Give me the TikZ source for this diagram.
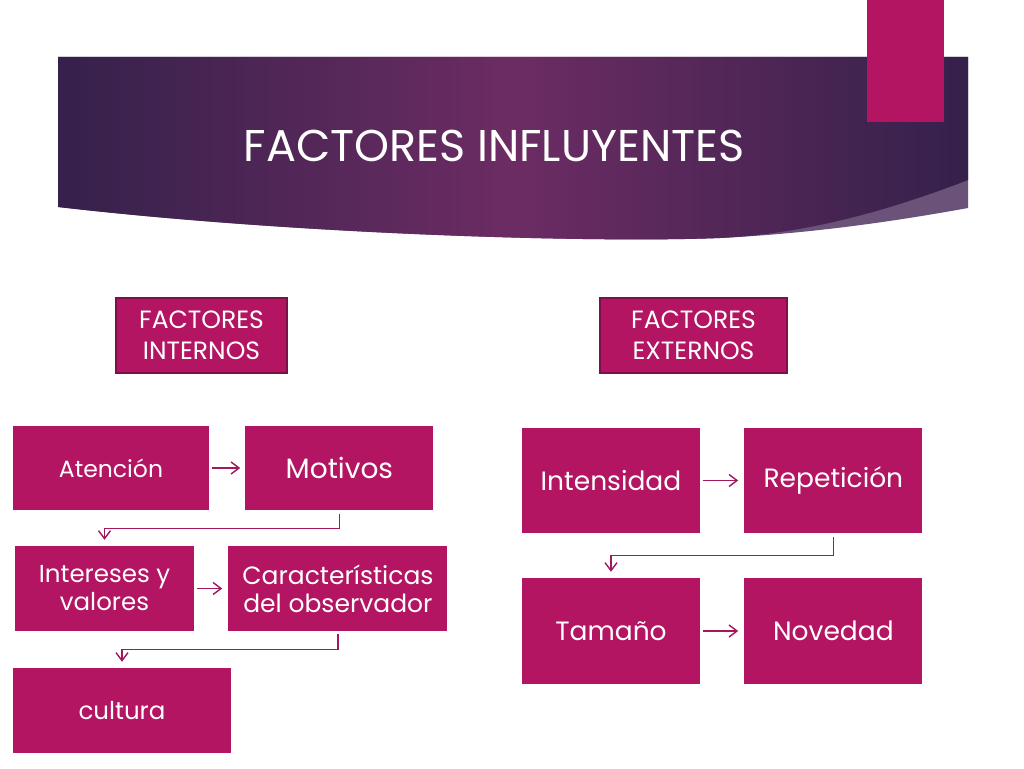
\documentclass[tikz,border=0pt]{standalone}
\usepackage{fontspec}
\setmainfont{Poppins}
\usetikzlibrary{positioning}
\usetikzlibrary{arrows.meta}
\definecolor{magenta}{HTML}{B31562}
\definecolor{flecha}{HTML}{A3175C}
\definecolor{borde}{HTML}{7D1044}
\definecolor{morado}{HTML}{35214B}
\definecolor{moradoclaro}{HTML}{6C2C63}
\definecolor{estela}{HTML}{6A5278}

\begin{document}
\begin{tikzpicture}[x=1pt, y=1pt,
            caja/.style={fill=magenta, text=white, align=center, inner sep=2pt},
            cabecera/.style={caja, draw=borde, line width=1.2pt, font=\fontsize{25}{31}\selectfont},
            conector/.style={draw=flecha, line width=1.4pt, -{Straight Barb[length=8pt, width=12pt]}}]
            \useasboundingbox (0,0) rectangle (1024,-768);

            \fill[estela] (58,-57) -- (968,-57) -- (968,-208) .. controls (880,-224) and (800,-234) .. (720,-238) .. controls (600,-243) and (300,-235) .. (58,-207) -- cycle;
            \shade[left color=morado, right color=morado, middle color=moradoclaro] (58,-57) -- (968,-57) -- (968,-180) .. controls (880,-214) and (800,-234) .. (720,-238) .. controls (600,-243) and (300,-235) .. (58,-207) -- cycle;
            \fill[magenta] (867,0) rectangle (944,-122);
            \node[text=white, font=\fontsize{44.5}{50}\selectfont] (titulo) at (494,-146) {FACTORES INFLUYENTES};

            \node[cabecera, minimum width=171, minimum height=75] (internos) at (201.5,-335.5) {FACTORES\\INTERNOS};
            \node[cabecera, minimum width=187, minimum height=75] (externos) at (693.5,-335.5) {FACTORES\\EXTERNOS};

            \node[caja, minimum width=196, minimum height=84, font=\fontsize{23.5}{28}\selectfont] (atencion) at (111,-468) {Atención};
            \node[caja, minimum width=188, minimum height=84, font=\fontsize{28}{32}\selectfont, right=36 of atencion] (motivos) {Motivos};
            \node[caja, minimum width=179, minimum height=85, font=\fontsize{24.5}{28}\selectfont] (intereses) at (104.5,-588.5) {Intereses y\\valores};
            \node[caja, minimum width=219, minimum height=85, font=\fontsize{25}{28}\selectfont, right=34 of intereses] (caracteristicas) {Características\\del observador};
            \node[caja, minimum width=218, minimum height=85, font=\fontsize{24.5}{28}\selectfont] (cultura) at (122,-710.5) {cultura};

            \node[caja, minimum width=178, minimum height=105, font=\fontsize{26.5}{30}\selectfont] (intensidad) at (611,-480.5) {Intensidad};
            \node[caja, minimum width=178, minimum height=105, font=\fontsize{26.5}{30}\selectfont, right=44 of intensidad] (repeticion) {Repetición};
            \node[caja, minimum width=178, minimum height=106, font=\fontsize{26.5}{30}\selectfont] (tamano) at (611,-631) {Tamaño};
            \node[caja, minimum width=178, minimum height=106, font=\fontsize{26.5}{30}\selectfont, right=44 of tamano] (novedad) {Novedad};

            \draw[conector] ([xshift=3pt]atencion.east) -- ([xshift=-5pt]motivos.west);
            \draw[conector] ([yshift=-4pt]motivos.south) -- ++(0,-14) -| ([yshift=6pt]intereses.north);
            \draw[conector] ([xshift=3pt]intereses.east) -- ([xshift=-6pt]caracteristicas.west);
            \draw[conector] ([yshift=-3pt]caracteristicas.south) -- ++(0,-15) -| ([yshift=6pt]cultura.north);
            \draw[conector] ([xshift=3pt]intensidad.east) -- ([xshift=-6pt]repeticion.west);
            \draw[conector] ([yshift=-4pt]repeticion.south) -- ++(0,-18) -| ([yshift=6pt]tamano.north);
            \draw[conector] ([xshift=3pt]tamano.east) -- ([xshift=-6pt]novedad.west);
        \end{tikzpicture}
\end{document}
